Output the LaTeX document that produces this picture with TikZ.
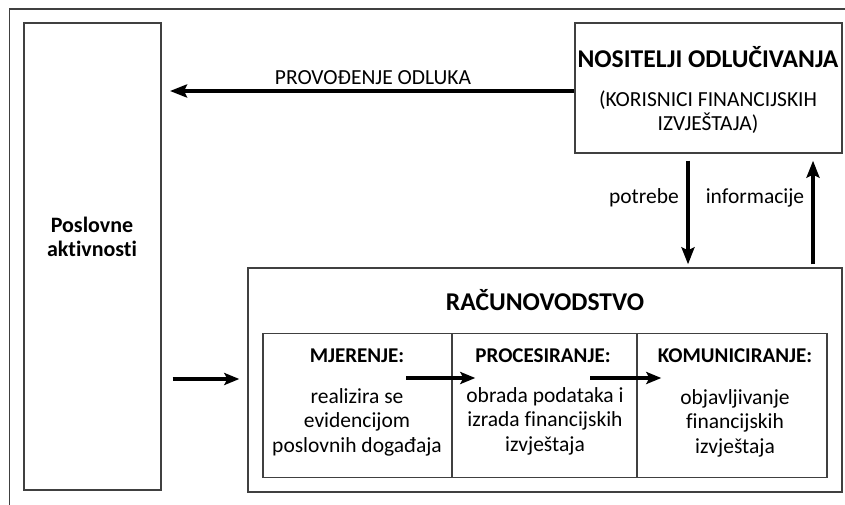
\documentclass[tikz,border=0pt]{standalone}
\usepackage{fontspec}
\setmainfont{Carlito}[Ligatures=NoCommon]
\usetikzlibrary{arrows.meta}
\definecolor{boxgray}{HTML}{404040}
\begin{document}
\begin{tikzpicture}[x=1pt,y=-1pt,
  boxline/.style={draw=boxgray,line width=1.4pt},
  arr/.style={draw=black,line width=3.6pt,-{Stealth[length=17pt,width=13pt,inset=3pt]}},
  sarr/.style={draw=black,line width=3.4pt,-{Stealth[length=15pt,width=12pt,inset=3pt]}},
  btxt/.style={font=\fontsize{21}{24.5}\selectfont\bfseries,align=center,inner sep=0pt},
  ntxt/.style={font=\fontsize{21.5}{24.5}\selectfont,align=center,inner sep=0pt},
  ttl/.style={font=\fontsize{25.6}{28}\selectfont\bfseries,align=center,inner sep=0pt}]
\useasboundingbox (0,0) rectangle (845,505);
% outer frame (partially visible)
\draw[boxline] (9.5,505) -- (9.5,9) -- (845,9);
% boxes
\node[boxline,minimum width=137pt,minimum height=467pt,inner sep=0pt] (pos) at (92.5,256.5) {};
\node[btxt,font=\fontsize{22}{23.5}\selectfont\bfseries] (postxt) at (92,237) {Poslovne\\aktivnosti};
\node[boxline,minimum width=267pt,minimum height=130pt,inner sep=0pt] (nos) at (708.5,88) {};
\node[ttl] (nostitle) at (708,57) {NOSITELJI ODLUČIVANJA};
\node[ntxt] (nossub) at (708,112) {(KORISNICI FINANCIJSKIH\\IZVJEŠTAJA)};
\node[boxline,minimum width=594pt,minimum height=224pt,inner sep=0pt] (rac) at (545,380) {};
\node[ttl] (ractitle) at (545,300) {RAČUNOVODSTVO};
% inner cells
\node[boxline,minimum width=189pt,minimum height=144pt,inner sep=0pt] (c1) at (357.5,405.5) {};
\node[boxline,minimum width=185pt,minimum height=144pt,inner sep=0pt] (c2) at (544.5,405.5) {};
\node[boxline,minimum width=190pt,minimum height=144pt,inner sep=0pt] (c3) at (732,405.5) {};
\node[btxt] (h1) at (357,356) {MJERENJE:};
\node[btxt] (h2) at (543,356) {PROCESIRANJE:};
\node[btxt] (h3) at (735,356) {KOMUNICIRANJE:};
\node[ntxt] (t1) at (357,422) {realizira se\\evidencijom\\poslovnih događaja};
\node[ntxt] (t2) at (545,421) {obrada podataka i\\izrada financijskih\\izvještaja};
\node[ntxt] (t3) at (735,423) {objavljivanje\\financijskih\\izvještaja};
% connectors
\coordinate (provend) at (170,91);
\draw[arr] (nos.west |- provend) -- (provend);
\node[ntxt] (provlbl) at (373,78) {PROVOĐENJE ODLUKA};
\draw[arr] ([xshift=-20.5pt,yshift=-7pt]nos.south) -- ([xshift=-20.5pt,yshift=3pt]nos.south |- rac.north);
\draw[arr] ([xshift=104.5pt,yshift=3pt]nos.south |- rac.north) -- ([xshift=104.5pt,yshift=-7pt]nos.south);
\node[ntxt,anchor=east] (potlbl) at (679,198) {potrebe};
\node[ntxt] (inflbl) at (755,198) {informacije};
\draw[sarr] ([xshift=11pt]pos.east |- 0,379) -- ([xshift=-8pt]rac.west |- 0,379);
\draw[sarr] (406,378) -- (c2.west |- 0,378) -- ++(24,0);
\draw[sarr] (590,378) -- (c3.west |- 0,378) -- ++(25,0);
\end{tikzpicture}
\end{document}
